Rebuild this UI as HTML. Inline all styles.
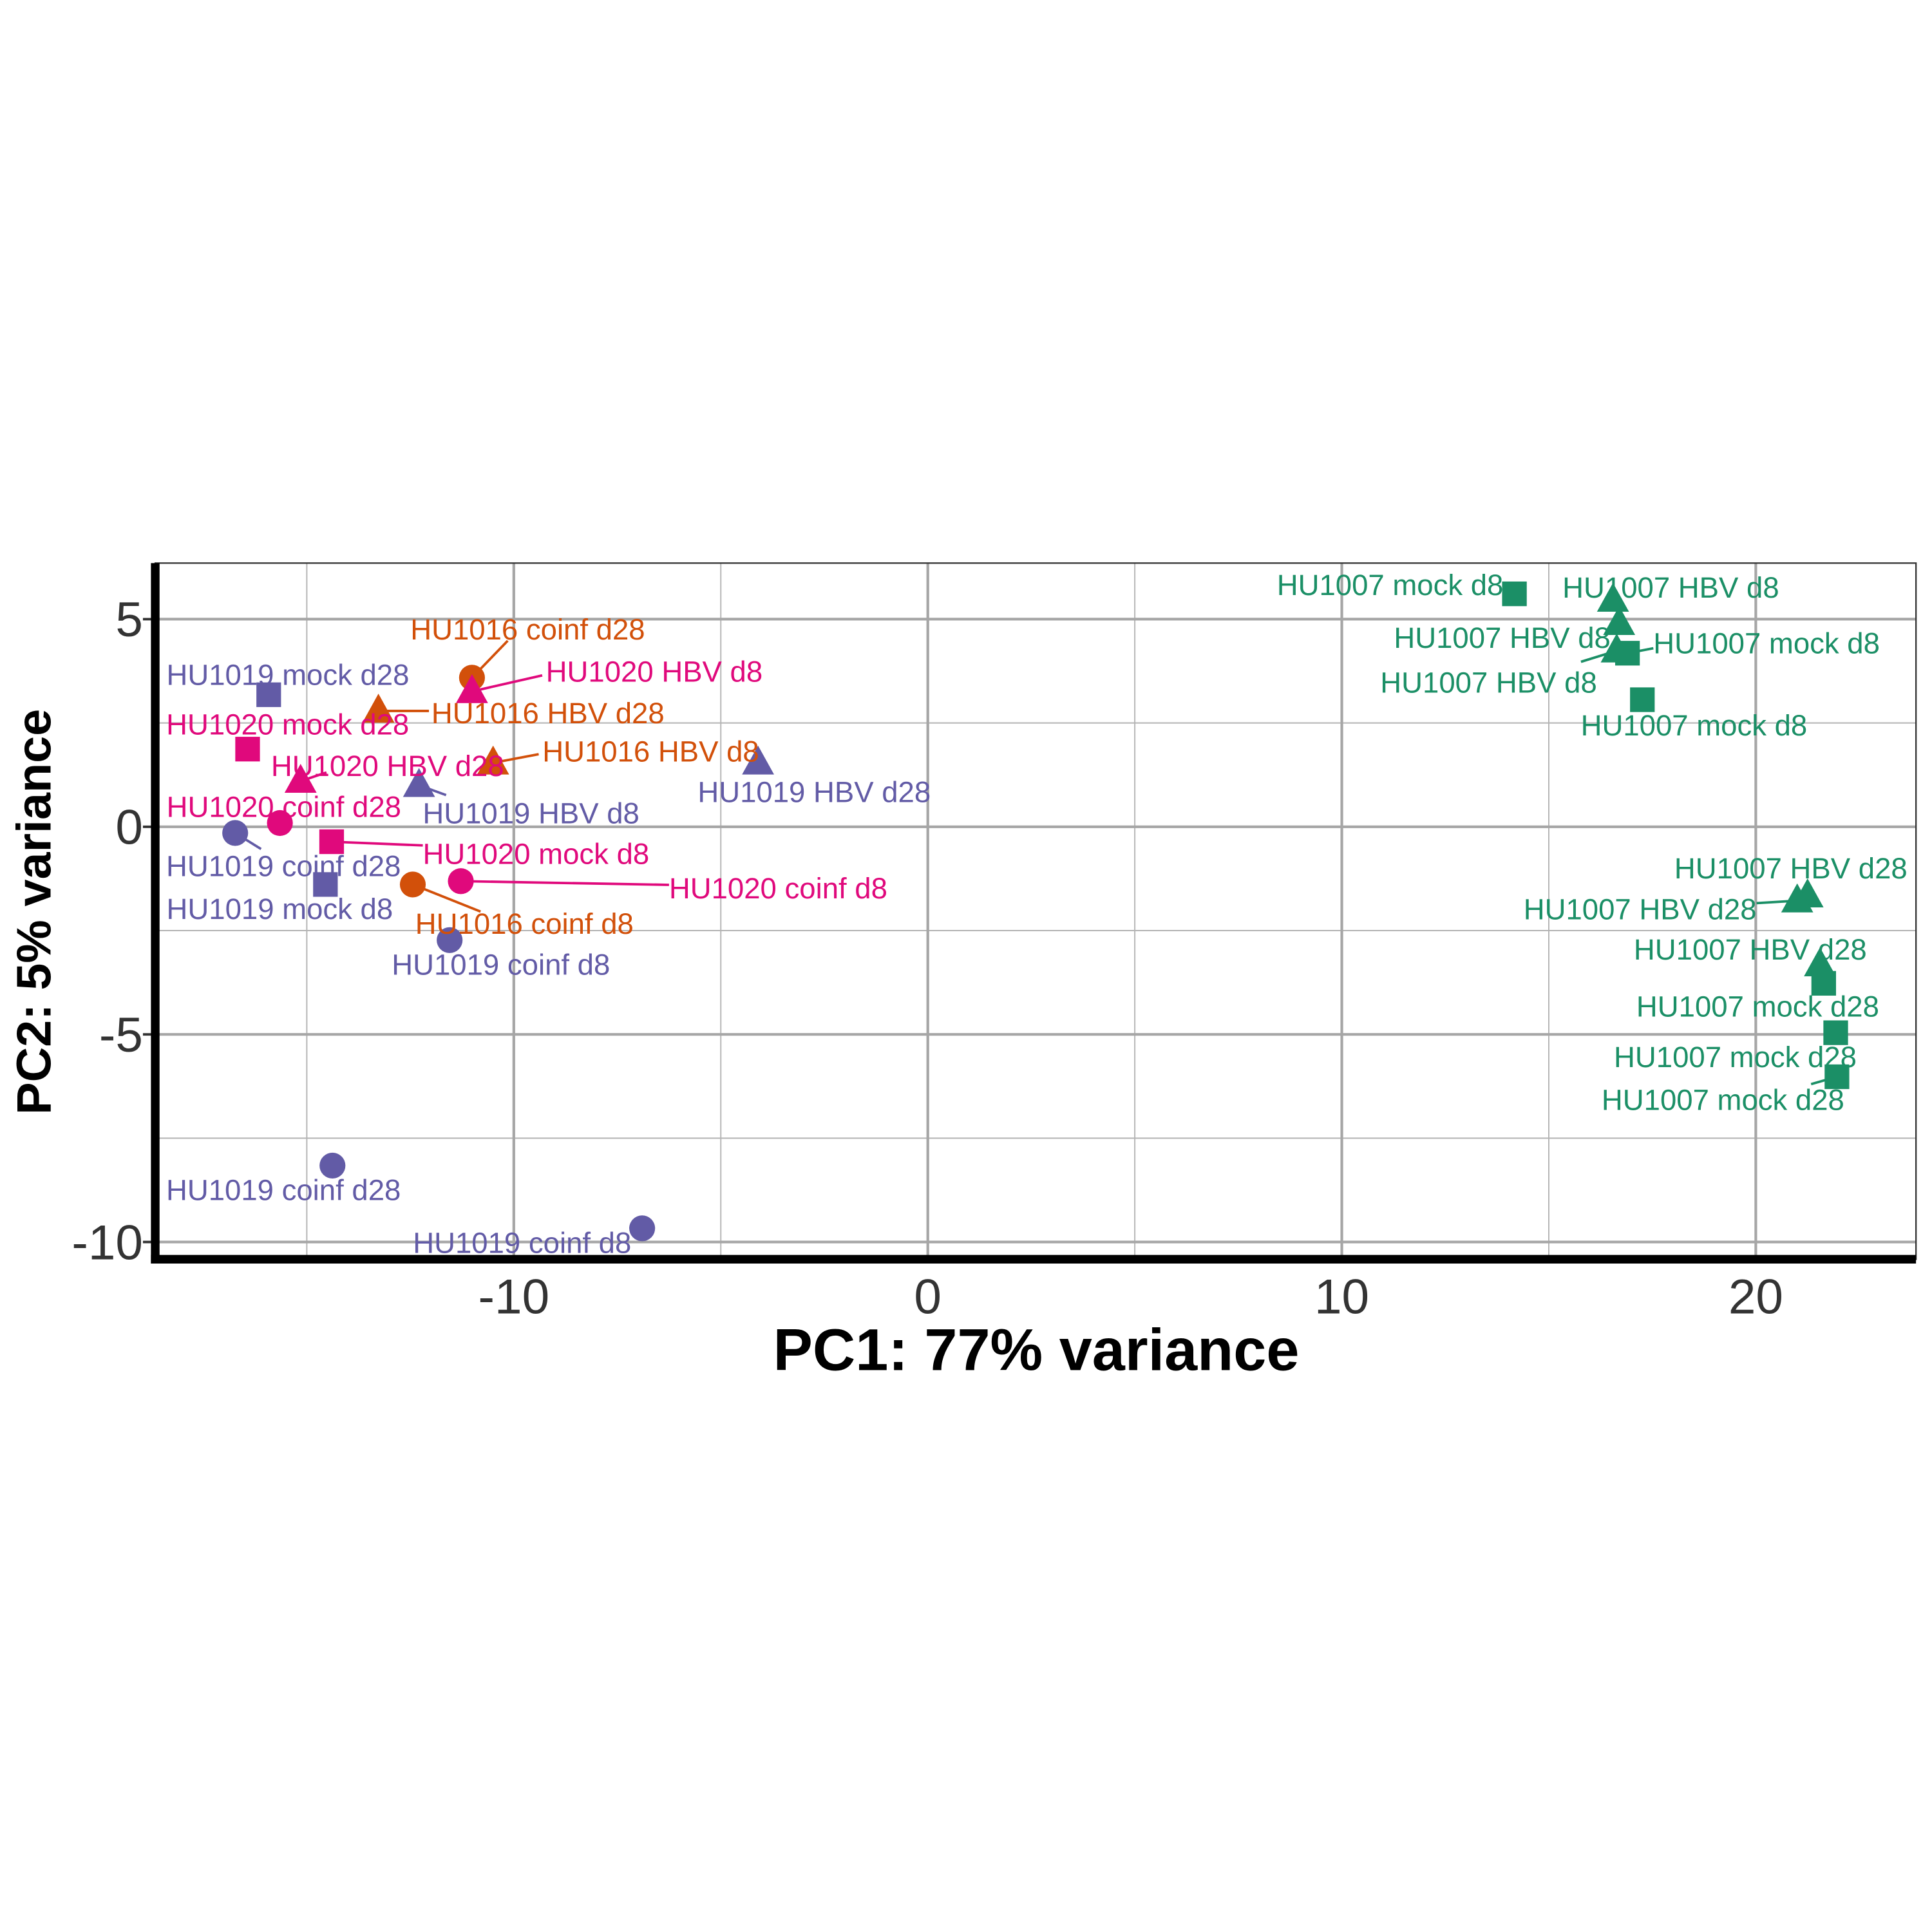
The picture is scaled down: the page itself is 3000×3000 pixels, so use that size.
<!DOCTYPE html>
<html><head><meta charset="utf-8"><style>html,body{margin:0;padding:0;background:#fff}svg{display:block}</style></head>
<body>
<svg id="chart" width="3000" height="3000" viewBox="0 0 1568 1568" xmlns="http://www.w3.org/2000/svg" font-family="Liberation Sans, Arial, sans-serif">
<rect width="1568" height="1568" fill="#fff"/>
<g id="grid"></g>
<g id="lines"></g>
<g id="marks"></g>
<g id="labels"></g>
<g id="axes"></g>
<text x="841" y="1112" text-anchor="middle" font-size="48" font-weight="bold" fill="#000">PC1: 77% variance</text>
<text transform="translate(41,740) rotate(-90)" text-anchor="middle" font-size="39.5" font-weight="bold" fill="#000">PC2: 5% variance</text>
</svg>
<script>
const names = ["HU1019 mock d28","HU1020 mock d28","HU1016 coinf d28","HU1020 HBV d8","HU1016 HBV d28","HU1016 HBV d8","HU1020 HBV d28","HU1019 HBV d8","HU1019 HBV d28","HU1020 coinf d28","HU1019 coinf d28","HU1020 mock d8","HU1019 mock d8","HU1016 coinf d8","HU1020 coinf d8","HU1019 coinf d8","HU1019 coinf d28","HU1019 coinf d8","HU1007 mock d8","HU1007 HBV d8","HU1007 HBV d8","HU1007 mock d8","HU1007 HBV d8","HU1007 mock d8","HU1007 HBV d28","HU1007 HBV d28","HU1007 HBV d28","HU1007 mock d28","HU1007 mock d28","HU1007 mock d28"];
const pc1 = [-15.92,-16.43,-11.01,-11.01,-13.27,-10.5,-15.15,-12.29,-4.1,-15.65,-16.73,-14.4,-14.55,-12.44,-11.28,-11.55,-14.38,-6.9,14.17,16.55,16.7,16.9,16.64,17.26,21.25,21.0,21.55,21.64,21.93,21.96];
const pc2 = [3.18,1.87,3.59,3.26,2.79,1.54,1.1,1.0,1.54,0.09,-0.15,-0.36,-1.39,-1.39,-1.31,-2.73,-8.16,-9.67,5.61,5.46,4.9,4.18,4.24,3.06,-1.66,-1.78,-3.32,-3.77,-4.96,-6.02];
const xTicks = [-10,0,10,20];
const yTicks = [-10,-5,0,5];
const xMinor = [-15,-5,5,15];
const yMinor = [-7.5,-2.5,2.5];
// label layout (pixel offsets from point, not data)
const lab = [[-83,-16,"start"],[-66,-20,"start"],[-50,-39,"start"],[60,-16,"start"],[43,2,"start"],[40,-9,"start"],[-24,-12,"start"],[3,23,"start"],[-49,24,"start"],[-92,-13,"start"],[-56,27,"start"],[74,10,"start"],[-129,20,"start"],[2,32,"start"],[169,6,"start"],[-47,20,"start"],[-135,20,"start"],[-186,12,"start"],[-9,-7,"end"],[-41,-10,"start"],[-7,12,"end"],[21,-8,"start"],[-16,26,"end"],[-50,21,"start"],[81,-22,"end"],[-33,7,"end"],[38,-12,"end"],[45,19,"end"],[17,20,"end"],[6,19,"end"]];
const conn = [null,null,[29,-30],[57,-13],[41,0],[37,-7],[21,-7],[22,8],null,null,[21,13],[74,3],null,[55,22],[169,3],null,null,null,null,null,null,[21,-4],[-29,9],null,null,[-33,2],null,null,null,[-21,6]];
const colMap = {"HU1007":"#1b8f66","HU1016":"#d2500a","HU1019":"#625ba6","HU1020":"#e0097c"};
const L=126,R=1555,T=457,B=1022;
const sx = v => 753 + v*33.6;
const sy = v => 671 - v*33.7;
const NS="http://www.w3.org/2000/svg";
function mk(tag, attrs, parent){const e=document.createElementNS(NS,tag);for(const k in attrs)e.setAttribute(k,attrs[k]);parent.appendChild(e);return e;}
const grid=document.getElementById('grid'),marks=document.getElementById('marks'),labels=document.getElementById('labels'),lines=document.getElementById('lines'),axes=document.getElementById('axes');
xMinor.forEach(v=>{const e=mk('line',{x1:sx(v),x2:sx(v),y1:T,y2:B,stroke:'#b3b3b3','stroke-width':1},grid);

});
yMinor.forEach(v=>{const e=mk('line',{x1:L,x2:R,y1:sy(v),y2:sy(v),stroke:'#b3b3b3','stroke-width':1},grid);

});
xTicks.forEach(v=>{const e=mk('line',{x1:sx(v),x2:sx(v),y1:T,y2:B,stroke:'#a6a6a6','stroke-width':2.2},grid);


const t=mk('text',{x:sx(v),y:1066,'text-anchor':'middle','font-size':40,fill:'#333'},axes);t.textContent=v;

});
yTicks.forEach(v=>{const e=mk('line',{x1:L,x2:R,y1:sy(v),y2:sy(v),stroke:'#a6a6a6','stroke-width':2.2},grid);


const tk=mk('line',{x1:116,x2:126,y1:sy(v),y2:sy(v),stroke:'#333','stroke-width':2},axes);


const t=mk('text',{x:116,y:sy(v)+14,'text-anchor':'end','font-size':40,fill:'#333'},axes);t.textContent=v;

});
const border=mk('rect',{x:L,y:T,width:R-L,height:B-T,fill:'none',stroke:'#333','stroke-width':1.2},axes);


const ya=mk('line',{x1:L,x2:L,y1:T,y2:B+3.5,stroke:'#000','stroke-width':7},axes);


const xa=mk('line',{x1:L-3.5,x2:R,y1:B,y2:B,stroke:'#000','stroke-width':7},axes);


names.forEach((n,i)=>{
  const c=colMap[n.slice(0,6)],x=sx(pc1[i]),y=sy(pc2[i]);
  let m;
  if(n.includes('mock')) m=mk('rect',{x:x-10,y:y-10,width:20,height:20,fill:c},marks);
  else if(n.includes('HBV')) m=mk('polygon',{points:`${x},${y-14} ${x-13},${y+9.5} ${x+13},${y+9.5}`,fill:c},marks);
  else m=mk('circle',{cx:x,cy:y,r:10.5,fill:c},marks);
  
  
  if(conn[i]){const l=mk('line',{x1:x,y1:y,x2:x+conn[i][0],y2:y+conn[i][1],stroke:c,'stroke-width':2},lines);
    
    }
  const a=lab[i];
  const t=mk('text',{x:x+a[0],y:y+a[1]+8,'text-anchor':a[2],'font-size':23.8,fill:c},labels);
  t.textContent=n;
  
  
});
</script>
</body></html>
